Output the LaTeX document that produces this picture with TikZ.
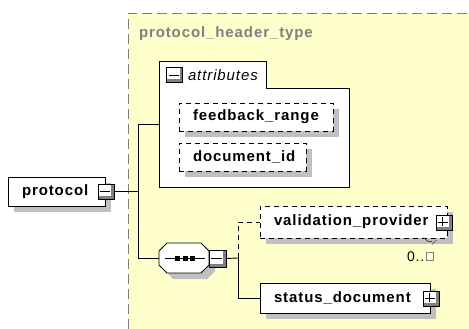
\documentclass[tikz,border=0pt]{standalone}
\usepackage{fontspec}
\setmainfont{Liberation Sans}[LetterSpace=6]
\usetikzlibrary{shadows}
\definecolor{bgyellow}{HTML}{FFFFCC}
\definecolor{shadowgray}{HTML}{C0C0C0}
\definecolor{bordergray}{HTML}{808080}
\begin{document}
\begin{tikzpicture}[x=1pt,y=-1pt,line width=0.9pt,
  every node/.style={inner sep=0pt, outer sep=0pt},
  shad/.style={drop shadow={shadow xshift=6pt, shadow yshift=-6pt, opacity=1, fill=shadowgray, draw=none}},
  elem/.style={rectangle, draw=black, fill=white, shad, font=\fontsize{15}{18}\selectfont\bfseries, align=left, inner xsep=14pt, minimum height=29pt},
  optelem/.style={elem, dash pattern=on 5pt off 4pt},
  icon/.style={rectangle, draw=black, fill=white, minimum width=16pt, minimum height=15pt, path picture={
     \fill[bordergray] ([xshift=-3pt]path picture bounding box.north east) rectangle (path picture bounding box.south east);
     \fill[bordergray] (path picture bounding box.south west) rectangle ([yshift=3pt]path picture bounding box.south east);
     \draw[black, line width=0.8pt] ([xshift=2pt]path picture bounding box.west) -- ([xshift=-4pt]path picture bounding box.east);
     #1}},
  minusicon/.style={icon={}},
  plusicon/.style={icon={\draw[black, line width=0.8pt] ([shift={(-1.5pt,-2pt)}]path picture bounding box.north) -- ([shift={(-1.5pt,4pt)}]path picture bounding box.south);}},
  title/.style={font=\fontsize{15}{18}\selectfont\bfseries, text=bordergray},
  optline/.style={dash pattern=on 5pt off 4pt}
]
\useasboundingbox (0,0) rectangle (469,329);
% background
\fill[bgyellow] (128,13) rectangle (469,329);
\draw[bordergray, dash pattern=on 10pt off 5pt] (128,329) -- (128,13) -- (469,13);
\node[title, anchor=base west] (typename) at (139,37.5) {protocol\_header\_type};

% attributes container
\draw[fill=white] (159,61) -- (266,61) -- (266,88) -- (349,88) -- (349,187) -- (159,187) -- cycle;
\node[minusicon] (aicon) at (174.5,75) {};
\node[anchor=west, font=\fontsize{15}{18}\selectfont\itshape] (attrlabel) at (188,75) {attributes};
\coordinate (attr) at (159,124);
\node[optelem, minimum width=154pt, text width=126pt, minimum height=28pt] (feedback) at (256,117) {feedback\_range};
\node[optelem, minimum width=127pt, text width=99pt, minimum height=28pt] (docid) at (242.5,157) {document\_id};

% protocol
\node[elem, minimum width=97pt, text width=69pt] (protocol) at (56.5,191.5) {protocol};
\node[minusicon] (picon) at (106,191.5) {};

% sequence compositor
\fill[shadowgray] (173,249) -- (207,249) -- (215,257) -- (215,271) -- (207,279) -- (173,279) -- (165,271) -- (165,257) -- cycle;
\draw[fill=white] (167,243) -- (201,243) -- (209,251) -- (209,265) -- (201,273) -- (167,273) -- (159,265) -- (159,251) -- cycle;
\node[minimum width=50pt, minimum height=30pt] (seq) at (184,258) {};
\draw (165,258) -- (205,258);
\fill (175,256) rectangle (180,261);
\fill (182.5,256) rectangle (187.5,261);
\fill (190,256) rectangle (195,261);
\node[minusicon, minimum width=17pt, minimum height=17pt] (sicon) at (217.5,258.5) {};

% children
\node[optelem, minimum width=187pt, text width=159pt, minimum height=32pt] (valid) at (353.5,222) {validation\_provider};
\node[plusicon] (vicon) at (444,222.5) {};
\draw[black!75, line width=0.7pt] (423.5,237.5) -- (428,241.5) -- (432,241.5);
\draw[black!75, line width=0.7pt] (432,244.5) -- (436.5,240);
\node[anchor=west, font=\fontsize{14}{16}\selectfont] (card) at (407,257) {0..};
\draw[bordergray, line width=0.6pt] (426,252.5) rectangle (433,260);

\node[elem, minimum width=170pt, text width=142pt, minimum height=30pt] (status) at (345,298) {status\_document};
\node[plusicon] (sticon) at (431,298.5) {};

% connectors
\coordinate (ja) at (138,124);
\coordinate (jb) at (138,258);
\coordinate (jc) at (238,258);
\draw (picon.east) -- (picon.east -| ja);
\draw (attr) -- (ja) -- (jb) -- (seq.west);
\draw (sicon.east) -- (jc);
\draw[optline] (jc) |- (valid.west);
\draw (jc) |- (status.west);
\end{tikzpicture}
\end{document}
